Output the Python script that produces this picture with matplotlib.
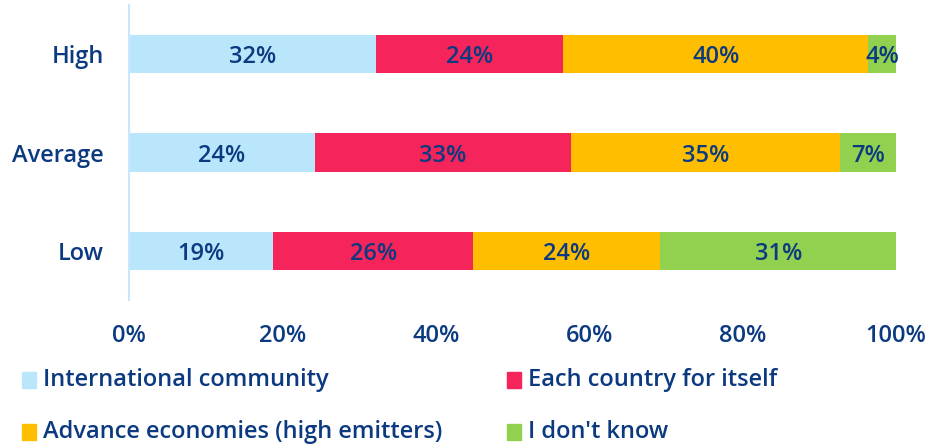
import matplotlib
matplotlib.use("Agg")
import matplotlib.pyplot as plt
from matplotlib.patches import Rectangle

categories = ["Low", "Average", "High"]
series_names = ["International community", "Each country for itself",
                "Advance economies (high emitters)", "I don't know"]
international = [18.8, 24.2, 32.2]
each_country = [26.1, 33.4, 24.4]
advance = [24.3, 35.1, 39.8]
dont_know = [30.9, 7.3, 3.6]
tick_labels = ["0%", "20%", "40%", "60%", "80%", "100%"]

colors = ["#B9E6FB", "#F5245A", "#FFBE00", "#92D050"]
text_color = "#0B3A80"
font = ["Open Sans", "DejaVu Sans"]
plt.rcParams['font.family'] = font
FS = 17
FW = 600

W, H = 927, 445
fig = plt.figure(figsize=(W / 100, H / 100), dpi=100)
ax = fig.add_axes([129 / W, 1 - 300 / H, (896 - 129) / W, (300 - 5) / H])

series = [international, each_country, advance, dont_know]
y = list(range(len(categories)))
left = [0.0] * len(categories)
for vals, col in zip(series, colors):
    ax.barh(y, vals, left=left, height=0.39, color=col, edgecolor="none")
    for yi, (l, v) in enumerate(zip(left, vals)):
        ax.text(l + v / 2, yi, f"{round(v)}%", ha="center", va="center_baseline",
                color=text_color, fontsize=FS, fontweight=FW)
    left = [l + v for l, v in zip(left, vals)]

ax.set_xlim(0, 100)
ax.set_ylim(-0.5, 2.5)
ax.set_yticks(y)
ax.set_yticklabels(categories, color=text_color, fontsize=FS, fontweight=FW)
ax.set_xticks([0, 20, 40, 60, 80, 100])
ax.set_xticklabels(tick_labels, color=text_color, fontsize=FS, fontweight=FW)
ax.tick_params(axis="both", length=0)
ax.tick_params(axis="x", pad=17)
ax.tick_params(axis="y", pad=18)
for s in ["top", "right", "bottom"]:
    ax.spines[s].set_visible(False)
ax.spines["left"].set_color("#C9E6FA")
ax.spines["left"].set_linewidth(1.5)

# Legend drawn manually
leg_pos = [(22, 380), (507, 380), (22, 432), (507, 432)]
for (px, py), name, col in zip(leg_pos, series_names, colors):
    fig.patches.append(Rectangle((px / W, 1 - (py + 8) / H), 14 / W, 16 / H,
                                 transform=fig.transFigure, color=col))
    fig.text((px + 21) / W, 1 - py / H, name, ha="left", va="center",
             color=text_color, fontsize=FS, fontweight=FW)

fig.savefig("out.png", dpi=100)
